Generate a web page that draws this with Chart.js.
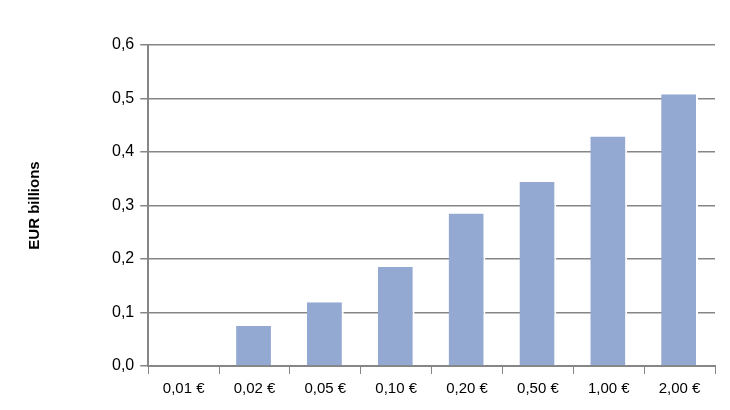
<!DOCTYPE html><html><head><script src="https://cdn.jsdelivr.net/npm/chart.js"></script>
<style>body{margin:0;background:#fff}#w{width:730px;height:410px}</style></head><body><div id="w"><canvas id="c"></canvas></div>
<script>
const categories=["0,01 €","0,02 €","0,05 €","0,10 €","0,20 €","0,50 €","1,00 €","2,00 €"];
const values=[0.0,0.075,0.119,0.185,0.285,0.344,0.429,0.508];
const yTicks=[0,0.1,0.2,0.3,0.4,0.5,0.6];
new Chart(document.getElementById('c'),{type:'bar',
data:{labels:categories,datasets:[{data:values,backgroundColor:'#94A9D2',borderColor:'#ffffff',borderWidth:{top:0,left:0,right:2,bottom:0},barPercentage:0.52,categoryPercentage:1}]},
options:{responsive:true,maintainAspectRatio:false,animation:false,
layout:{padding:{left:22,right:15,top:45,bottom:6}},
plugins:{legend:{display:false},tooltip:{enabled:false}},
scales:{
x:{grid:{display:true,drawOnChartArea:false,color:'#868686',tickLength:8,offset:true},border:{color:'#868686',width:2},
ticks:{color:'#000',font:{family:'Liberation Sans',size:15},padding:6}},
y:{min:0,max:0.6,afterBuildTicks:a=>{a.ticks=yTicks.map(v=>({value:v}))},
grid:{color:'#868686',lineWidth:1.5,tickLength:8},border:{color:'#868686',width:2},
ticks:{color:'#000',font:{family:'Liberation Sans',size:16},padding:6,callback:v=>v.toFixed(1).replace('.',',')},
title:{display:true,text:'EUR billions',color:'#000',font:{family:'Liberation Sans',size:15,weight:'bold'},padding:{bottom:62}}}
}}});
</script></body></html>
